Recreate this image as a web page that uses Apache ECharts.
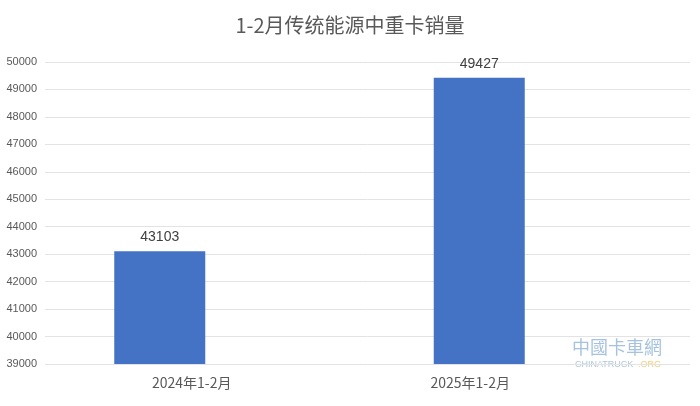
<!DOCTYPE html>
<html><head><meta charset="utf-8">
<script src="https://cdn.jsdelivr.net/npm/echarts@6/dist/echarts.min.js"></script>
<style>html,body{margin:0;padding:0;background:#fff}#c{width:700px;height:406px}</style>
</head><body><div id="c"></div>
<script>
var titleText = '1-2月传统能源中重卡销量';
var categories = ['2024年1-2月', '2025年1-2月'];
var sales = [43103, 49427];
var yMin = 39000, yMax = 50000, yStep = 1000;

var chart = echarts.init(document.getElementById('c'));
var font = '"Microsoft YaHei","Noto Sans CJK SC",Arial,sans-serif';
chart.setOption({
  animation: false,
  backgroundColor: '#ffffff',
  title: {
    text: titleText, left: 'center', top: 10,
    textStyle: {fontSize: 20, fontWeight: 'normal', color: '#595959', fontFamily: font}
  },
  grid: [
    {left: 45, right: 10, top: 62, bottom: 42},
    {left: 0, right: 61, top: 62, bottom: 42}
  ],
  xAxis: [
    {gridIndex: 0, type: 'category', data: categories, show: false},
    {gridIndex: 1, type: 'category', data: categories,
     axisLine: {show: false}, axisTick: {show: false},
     axisLabel: {
       margin: 12, color: '#595959', fontSize: 14, fontFamily: font,
       formatter: function (v, i) { return '{l' + i + '|' + v + '}'; },
       rich: {
         l0: {padding: [0, 0, 0, 64], color: '#595959', fontSize: 14, fontFamily: font},
         l1: {padding: [0, 18, 0, 0], color: '#595959', fontSize: 14, fontFamily: font}
       }
     }}
  ],
  yAxis: [
    {gridIndex: 0, type: 'value', min: yMin, max: yMax, interval: yStep,
     axisLine: {show: false}, axisTick: {show: false},
     axisLabel: {color: '#595959', fontSize: 11, margin: 8, formatter: function (v) { return String(v); },
                 fontFamily: 'Arial, "Liberation Sans", sans-serif'},
     splitLine: {lineStyle: {color: '#e3e3e3', width: 1}}},
    {gridIndex: 1, type: 'value', min: yMin, max: yMax, interval: yStep, show: false,
     splitLine: {show: false}}
  ],
  series: [{
    type: 'bar', xAxisIndex: 1, yAxisIndex: 1, data: sales, barWidth: 91,
    itemStyle: {color: '#4472C4'},
    label: {show: true, position: 'top', distance: 7, color: '#404040', fontSize: 14,
            fontFamily: 'Arial, "Liberation Sans", sans-serif'}
  }],
  graphic: [
    {type: 'text', left: 572, top: 338, style: {text: '中國卡車網', fill: '#8fb3d6', font: '18px "Noto Sans CJK SC"', opacity: 0.8}},
    {type: 'text', left: 575, top: 360, style: {text: 'CHINATRUCK', fill: '#9bb6cf', font: '9px Arial', opacity: 0.8}},
    {type: 'text', left: 638, top: 360, style: {text: '.ORG', fill: '#f0c060', font: '9px Arial', opacity: 0.8}}
  ]
});
</script></body></html>
